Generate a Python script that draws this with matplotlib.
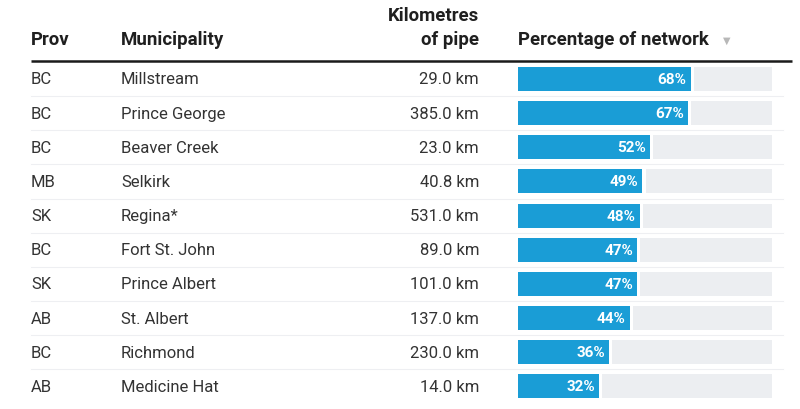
import matplotlib
matplotlib.use("Agg")
import matplotlib.pyplot as plt

plt.rcParams['font.family'] = ['Roboto', 'DejaVu Sans']

provs = ["BC", "BC", "BC", "MB", "SK", "BC", "SK", "AB", "BC", "AB"]
municipalities = ["Millstream", "Prince George", "Beaver Creek", "Selkirk", "Regina*",
                  "Fort St. John", "Prince Albert", "St. Albert", "Richmond", "Medicine Hat"]
km_pipe = [29.0, 385.0, 23.0, 40.8, 531.0, 89.0, 101.0, 137.0, 230.0, 14.0]
pct_network = [68, 67, 52, 49, 48, 47, 47, 44, 36, 32]

W, H = 800, 410
fig = plt.figure(figsize=(W / 100, H / 100), dpi=100)
fig.patch.set_facecolor("white")

ax = fig.add_axes([0, 0, 1, 1])
ax.set_xlim(0, W)
ax.set_ylim(H, 0)
ax.axis("off")

row0, rowh = 80.0, 34.15
n = len(provs)
txt_col = "#333333"
fs = 12.0

# header
hdr = dict(fontsize=13.4, fontweight="bold", color="#1f1f1f", va="center")
ax.text(31, 40, "Prov", ha="left", **hdr)
ax.text(121, 40, "Municipality", ha="left", **hdr)
ax.text(479, 16, "Kilometres", ha="right", **hdr)
ax.text(479, 40, "of pipe", ha="right", **hdr)
ax.text(518, 40, "Percentage of network", ha="left", **hdr)
ax.text(727, 41, "▼", ha="center", va="center", fontsize=7, color="#b8b8b8",
        family="DejaVu Sans")
ax.plot([31, 792], [62, 62], color="#1a1a1a", lw=1.8, solid_capstyle="butt")

for i in range(n):
    y = row0 + i * rowh
    ax.text(31, y, provs[i], ha="left", va="center", fontsize=fs, color=txt_col)
    ax.text(121, y, municipalities[i], ha="left", va="center", fontsize=fs, color=txt_col)
    ax.text(479, y, f"{km_pipe[i]:.1f} km", ha="right", va="center", fontsize=fs, color=txt_col)
    if i < n - 1:
        ax.plot([31, 783], [y + rowh / 2, y + rowh / 2], color="#eeeff2", lw=0.8)

# bar axes
top = row0 - rowh / 2
bottom = row0 + (n - 1) * rowh + rowh / 2
bx = fig.add_axes([518 / W, 1 - bottom / H, (772 - 518) / W, (bottom - top) / H])
bx.set_xlim(0, 100)
bx.set_ylim(n - 0.5, -0.5)
bx.axis("off")
bx.patch.set_alpha(0)
ys = list(range(n))
bh = 24 / rowh
bx.barh(ys, [100] * n, height=bh, color="#eceef1", edgecolor="none")
bx.barh(ys, [p + 1.2 for p in pct_network], height=bh, color="white", edgecolor="none")
bx.barh(ys, pct_network, height=bh, color="#1a9dd6", edgecolor="none")
for i, p in enumerate(pct_network):
    bx.annotate(f"{p}%", (p, i), xytext=(-3, 0), textcoords="offset points",
                ha="right", va="center", fontsize=11, fontweight="bold", color="white")

fig.savefig("out.png", dpi=100, facecolor="white")
